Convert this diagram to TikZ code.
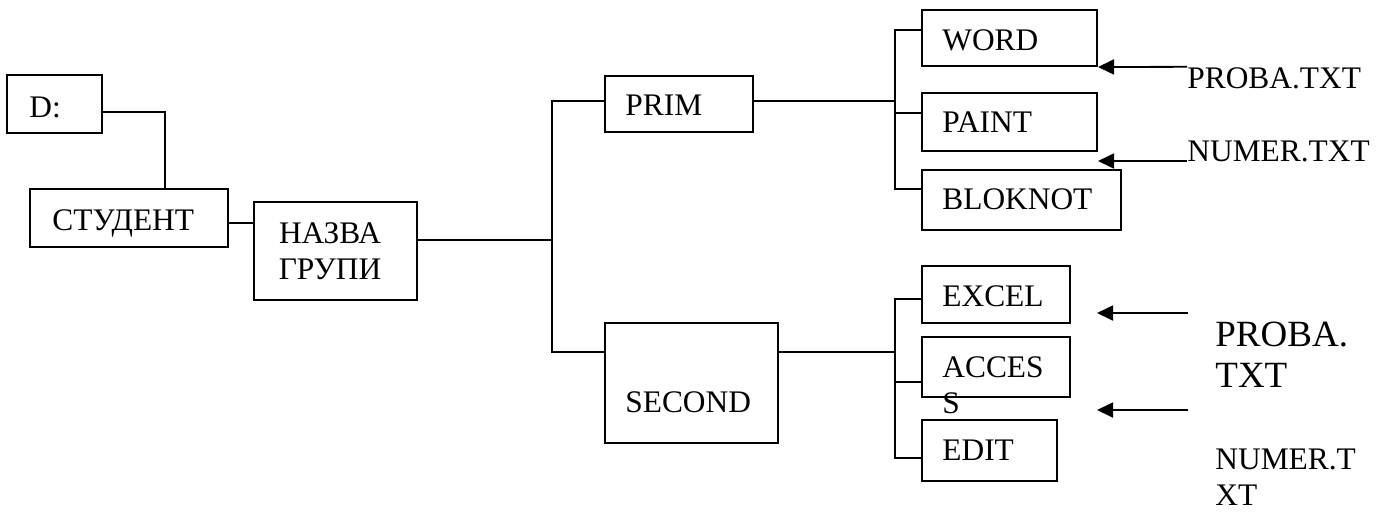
\documentclass[tikz,border=0pt]{standalone}
\usepackage{fontspec}
\setmainfont{Liberation Serif}
\usetikzlibrary{arrows.meta}

\tikzset{
  box/.style={draw, line width=1pt, inner sep=0pt},
  txt/.style={anchor=base west, inner sep=0pt, align=left, font=\fontsize{15.7}{18}\selectfont},
  bigtxt/.style={anchor=base west, inner sep=0pt, align=left, font=\fontsize{18.5}{20.5}\selectfont},
  wire/.style={line width=0.9pt},
  arr/.style={line width=0.9pt, -{Triangle[length=8pt,width=7.5pt]}}
}

\begin{document}
\begin{tikzpicture}[line cap=butt,line join=miter,x=0.5pt,y=-0.5pt]
    \useasboundingbox (0,0) rectangle (1385,511);

    % boxes
    \node[box, minimum width=47.5pt, minimum height=29pt] (d) at (54.5,104) {};
    \node[box, minimum width=99pt, minimum height=29pt] (stud) at (129,218) {};
    \node[box, minimum width=81.5pt, minimum height=49pt] (naz) at (335.5,251) {};
    \node[box, minimum width=74pt, minimum height=28pt] (prim) at (679,104) {};
    \node[box, minimum width=86.5pt, minimum height=60pt] (sec) at (691.5,383) {};
    \node[box, minimum width=87.5pt, minimum height=28pt] (word) at (1009.5,38) {};
    \node[box, minimum width=87.5pt, minimum height=29pt] (paint) at (1009.5,122) {};
    \node[box, minimum width=99.5pt, minimum height=30pt] (blok) at (1021.5,200) {};
    \node[box, minimum width=74pt, minimum height=28.5pt] (excel) at (996,294.5) {};
    \node[box, minimum width=74pt, minimum height=30pt] (acc) at (996,367) {};
    \node[box, minimum width=67.5pt, minimum height=30.5pt] (edit) at (989.5,450.5) {};

    % texts
    \node[txt] (dt) at (29,117) {D:};
    \node[txt] (studt) at (52,230) {СТУДЕНТ};
    \node[txt, align=center, anchor=base] (nazt) at (330,279) {НАЗВА\\ГРУПИ};
    \node[txt] (primt) at (625,115) {PRIM};
    \node[txt] (sect) at (625,412) {SECOND};
    \node[txt] (wordt) at (942,50) {WORD};
    \node[txt] (paintt) at (942,132) {PAINT};
    \node[txt] (blokt) at (942,209) {BLOKNOT};
    \node[txt] (excelt) at (942,306) {EXCEL};
    \node[txt] (acct) at (942,413) {ACCES\\S};
    \node[txt] (editt) at (942,460) {EDIT};
    \node[txt] (pr1) at (1187,88) {PROBA.TXT};
    \node[txt] (nm1) at (1187,161) {NUMER.TXT};
    \node[bigtxt] (pr2) at (1215,387) {PROBA.\\TXT};
    \node[txt] (nm2) at (1215,505) {NUMER.T\\XT};

    % connectors
    \coordinate (dj) at (165,0);
    \coordinate (tr) at (552,240);
    \coordinate (b1) at (895,101);
    \coordinate (b2) at (895,352);
    \draw[wire] ([yshift=-4pt]d.east) -| (stud.north -| dj);
    \draw[wire] ([yshift=-2.5pt]stud.east) -- ([yshift=-2.5pt]stud.east -| naz.west);
    \draw[wire] ([yshift=5.5pt]naz.east) -- (tr);
    \draw[wire] ([yshift=1.5pt]prim.west) -| (tr) |- ([yshift=15.5pt]sec.west);
    \draw[wire] ([yshift=1.5pt]prim.east) -- (b1);
    \draw[wire] ([yshift=4pt]word.west) -| (b1);
    \draw[wire] ([yshift=5.5pt]blok.west) -| (b1);
    \draw[wire] ([yshift=4.5pt]paint.west) -- ([yshift=4.5pt]paint.west -| b1);
    \draw[wire] ([yshift=15.5pt]sec.east) -- (b2);
    \draw[wire] ([yshift=-2.25pt]excel.west) -| (b2);
    \draw[wire] ([yshift=-3.75pt]edit.west) -| (b2);
    \draw[wire] ([yshift=-7.5pt]acc.west) -- ([yshift=-7.5pt]acc.west -| b2);

    % arrows
    \coordinate (a3s) at (1188,313);
    \coordinate (a3e) at (1097,313);
    \coordinate (a4s) at (1188,410);
    \coordinate (a4e) at (1097,410);
    \draw[arr] (pr1.north west) -- (word.south east);
    \draw[arr] (nm1.base west) -- (nm1.base west -| word.east);
    \draw[arr] (a3s) -- (a3e);
    \draw[arr] (a4s) -- (a4e);
\end{tikzpicture}
\end{document}
